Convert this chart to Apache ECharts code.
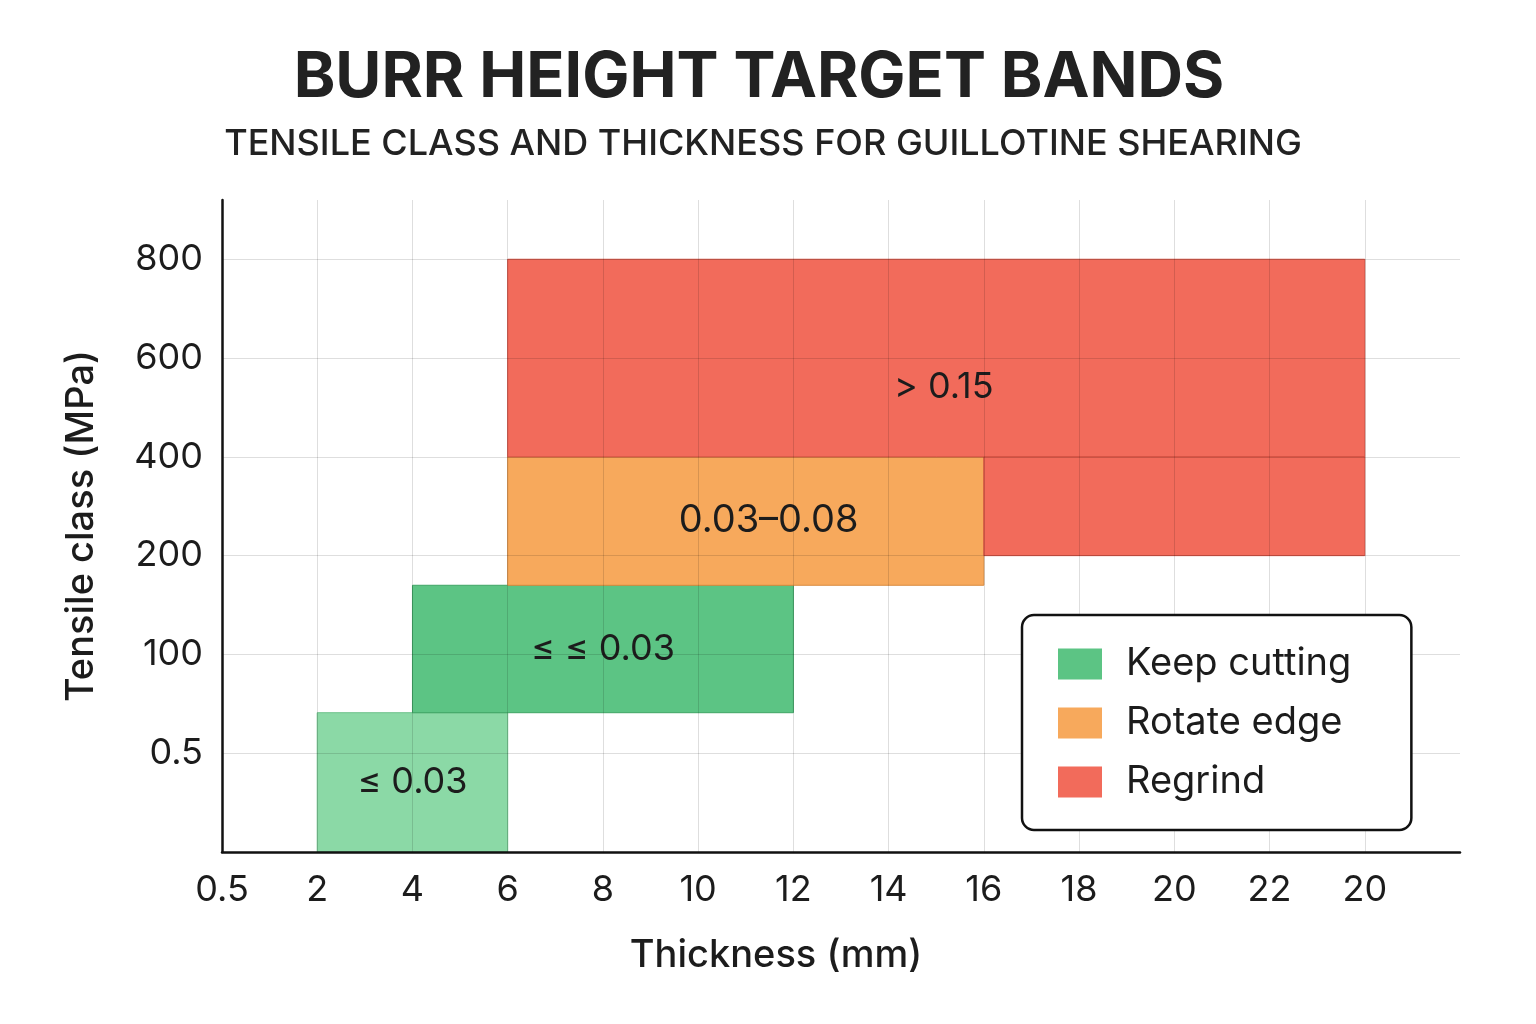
<!DOCTYPE html>
<html>
<head>
<meta charset="utf-8">
<title>Burr height target bands</title>
<script src="https://cdn.jsdelivr.net/npm/echarts@6/dist/echarts.min.js"></script>
<style>
  html, body { margin: 0; padding: 0; background: #fff; }
  #chart { width: 1536px; height: 1024px; }
</style>
</head>
<body>
<div id="chart"></div>
<script>
  "use strict";
  // tick labels, one per grid step (the axis is drawn in steps, labels are as printed)
  var xTicks = ['0.5', '2', '4', '6', '8', '10', '12', '14', '16', '18', '20', '22', '20'];
  var yTicks = ['', '0.5', '100', '200', '400', '600', '800'];
  var bandNames = ['Keep cutting', 'Rotate edge', 'Regrind'];
  // bands: [x from, x to, y from, y to] in grid steps
  var keepBands = [[1, 3, 0, 1.41], [2, 6, 1.41, 2.7]];
  var keepLabels = ['≤ 0.03', '≤ ≤ 0.03'];
  var rotateBands = [[3, 8, 2.7, 4]];
  var rotateLabels = ['0.03–0.08'];
  var rotateLabelAt = [[5.74, 3.35]];
  var regrindBands = [[3, 12, 4, 6], [8, 12, 3, 4]];
  var regrindLabels = ['> 0.15', ''];
  // label anchor per band, null = centre of band
  var regrindLabelAt = [[7.58, 4.71], null];

  var font = 'Inter, "Noto Sans", sans-serif';
  var colors = {
    keep: '#5CC484',
    keepLight: '#8BD9A6',
    rotate: '#F7A95C',
    regrind: '#F26B5B'
  };
  var edges = {
    keep: '#3FA565',
    keepLight: '#6CC28A',
    rotate: '#D98A3E',
    regrind: '#D24C3E'
  };

  function bandData(bands, labels, at) {
    return bands.map(function (b, i) {
      var p = (at && at[i]) ? at[i] : [(b[0] + b[1]) / 2, (b[2] + b[3]) / 2];
      return {name: labels[i], value: [b[0], b[1], b[2], b[3], p[0], p[1]]};
    });
  }

  function makeRender(labels, edgeFor, size) {
    return function (params, api) {
      var p0 = api.coord([api.value(0), api.value(3)]);
      var p1 = api.coord([api.value(1), api.value(2)]);
      var t = api.coord([api.value(4), api.value(5)]);
      return {
        type: 'group',
        children: [{
          type: 'rect',
          shape: {x: p0[0], y: p0[1], width: p1[0] - p0[0], height: p1[1] - p0[1]},
          style: {fill: api.visual('color'), stroke: edgeFor(params.dataIndex), lineWidth: 1}
        }, {
          type: 'text',
          x: t[0],
          y: t[1],
          style: {
            text: labels[params.dataIndex],
            fill: '#1c1c1c',
            font: (size || 36) + 'px ' + font,
            align: 'center',
            verticalAlign: 'middle'
          }
        }]
      };
    };
  }

  var keepData = bandData(keepBands, keepLabels);
  keepData[0].itemStyle = {color: colors.keepLight};

  var option = {
    backgroundColor: '#fff',
    animation: false,
    title: [{
      text: 'BURR HEIGHT TARGET BANDS',
      left: 754,
      top: 42,
      textAlign: 'center',
      textStyle: {fontFamily: font, fontSize: 63, fontWeight: 'bold', color: '#222'}
    }, {
      text: 'TENSILE CLASS AND THICKNESS FOR GUILLOTINE SHEARING',
      left: 758,
      top: 121,
      textAlign: 'center',
      textStyle: {fontFamily: font, fontSize: 36, fontWeight: 500, color: '#222'}
    }],
    legend: {
      orient: 'vertical',
      left: 1022,
      top: 615,
      data: bandNames,
      itemWidth: 44,
      itemHeight: 31,
      itemGap: 21,
      icon: 'rect',
      padding: [30, 60, 29, 36],
      backgroundColor: '#fff',
      borderColor: '#111',
      borderWidth: 2.5,
      borderRadius: 12,
      z: 10,
      textStyle: {fontFamily: font, fontSize: 38, color: '#1c1c1c', padding: [0, 0, 0, 19]}
    },
    grid: {left: 222, right: 76, top: 200, bottom: 172},
    xAxis: {
      type: 'value',
      min: 0,
      max: 13,
      interval: 1,
      z: 3,
      name: 'Thickness (mm)',
      nameLocation: 'middle',
      nameGap: 85,
      nameTextStyle: {fontFamily: font, fontSize: 38, fontWeight: 500, color: '#1c1c1c', padding: [0, 130, 0, 0]},
      axisLine: {lineStyle: {color: '#111', width: 2.5}},
      axisTick: {show: false},
      axisLabel: {
        margin: 20,
        fontFamily: font,
        fontSize: 36,
        color: '#1c1c1c',
        formatter: function (v) { return xTicks[v] !== undefined && v % 1 === 0 ? xTicks[v] : ''; }
      },
      splitLine: {show: true, showMinLine: false, showMaxLine: false, lineStyle: {color: 'rgba(0,0,0,0.13)', width: 1}}
    },
    yAxis: {
      type: 'value',
      min: 0,
      max: 6.6,
      interval: 1,
      z: 3,
      name: 'Tensile class (MPa)',
      nameLocation: 'middle',
      nameGap: 121,
      nameTextStyle: {fontFamily: font, fontSize: 38, fontWeight: 500, color: '#1c1c1c'},
      axisLine: {show: true, lineStyle: {color: '#111', width: 2.5}},
      axisTick: {show: false},
      axisLabel: {
        margin: 19,
        fontFamily: font,
        fontSize: 36,
        color: '#1c1c1c',
        formatter: function (v) { return yTicks[v] !== undefined && v % 1 === 0 ? yTicks[v] : ''; }
      },
      splitLine: {show: true, showMinLine: false, showMaxLine: false, lineStyle: {color: 'rgba(0,0,0,0.13)', width: 1}}
    },
    series: [{
      type: 'custom',
      name: bandNames[0],
      itemStyle: {color: colors.keep},
      encode: {x: [0, 1], y: [2, 3]},
      renderItem: makeRender(keepLabels, function (i) { return i === 0 ? edges.keepLight : edges.keep; }),
      data: keepData
    }, {
      type: 'custom',
      name: bandNames[1],
      itemStyle: {color: colors.rotate},
      encode: {x: [0, 1], y: [2, 3]},
      renderItem: makeRender(rotateLabels, function () { return edges.rotate; }, 38),
      data: bandData(rotateBands, rotateLabels, rotateLabelAt)
    }, {
      type: 'custom',
      name: bandNames[2],
      itemStyle: {color: colors.regrind},
      encode: {x: [0, 1], y: [2, 3]},
      renderItem: makeRender(regrindLabels, function () { return edges.regrind; }),
      data: bandData(regrindBands, regrindLabels, regrindLabelAt)
    }]
  };

  var chart = echarts.init(document.getElementById('chart'));
  chart.setOption(option);
  window.addEventListener('resize', function () {
    chart.resize();
  });
</script>
</body>
</html>
